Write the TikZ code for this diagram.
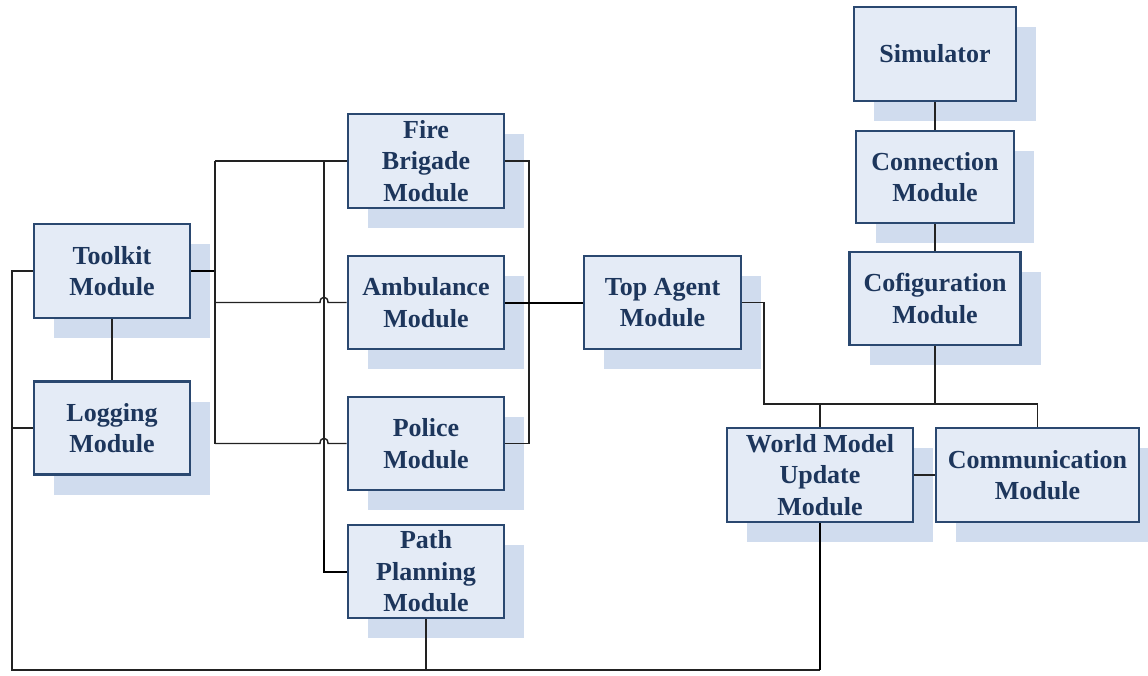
\documentclass[tikz,border=0pt]{standalone}
\usepackage{fontspec}
\setmainfont{Liberation Serif}
\usetikzlibrary{shadows}
\definecolor{boxfill}{HTML}{E4EBF6}
\definecolor{boxline}{HTML}{2A4870}
\definecolor{boxtext}{HTML}{1D365C}
\definecolor{shade}{HTML}{D0DCEE}
\definecolor{wire}{HTML}{222222}
\begin{document}
\begin{tikzpicture}[x=1pt,y=-1pt,
  mod/.style={draw=boxline, line width=2.6pt, fill=boxfill, text=boxtext,
    font=\bfseries\fontsize{26}{31.5}\selectfont, align=center, inner sep=0pt,
    minimum width=156pt, minimum height=93pt,
    drop shadow={shadow xshift=20pt, shadow yshift=-20pt, fill=shade, opacity=1, draw=none}},
  wire/.style={draw=wire, line width=1.4pt},
  thickwire/.style={draw=black, line width=2pt}]
\useasboundingbox (0,0) rectangle (1148,675);
\fill[white] (0,0) rectangle (1148,675);

% nodes
\node[mod, minimum width=162pt, minimum height=94pt] (sim) at (935,54) {Simulator};
\node[mod, minimum width=158pt, minimum height=92pt] (conn) at (935,177) {Connection\\Module};
\node[mod, minimum width=171pt] (cfg) at (935,298.5) {Cofiguration\\Module};
\node[mod, minimum height=94pt] (tool) at (112,271) {Toolkit\\Module};
\node[mod] (log) at (112,428) {Logging\\Module};
\node[mod, minimum height=94pt] (fire) at (426,161) {Fire\\Brigade\\Module};
\node[mod] (amb) at (426,302.5) {Ambulance\\Module};
\node[mod] (pol) at (426,443.5) {Police\\Module};
\node[mod] (path) at (426,571.5) {Path\\Planning\\Module};
\node[mod, minimum width=157pt] (top) at (662.5,302.5) {Top Agent\\Module};
\node[mod, minimum width=186pt, minimum height=94pt] (wm) at (820,475) {World Model\\Update\\Module};
\node[mod, minimum width=203pt, minimum height=94pt] (comm) at (1037.5,475) {Communication\\Module};

% junction coordinates
\coordinate (tj) at (215,271);
\coordinate (lt) at (215,161);
\coordinate (lb) at (215,443.5);
\coordinate (la) at (215,302.5);
\coordinate (mt) at (324,161);
\coordinate (mb) at (324,571.5);
\coordinate (rt) at (529,161);
\coordinate (rb) at (529,443.5);
\coordinate (ta) at (764,302.5);
\coordinate (tb) at (764,404);
\coordinate (cr) at (1037.5,404);
\coordinate (wj) at (820,404);
\coordinate (cj) at (935,404);
\coordinate (bl) at (12,271);
\coordinate (bll) at (12,428);
\coordinate (bb) at (12,670);
\coordinate (bw) at (820,670);
\coordinate (bp) at (426,670);

% left bus
\draw[thickwire] (tool.east) -- (tj);
\draw[wire] (lt) -- (lb);
\draw[wire] (lt) -- (fire.west);
\draw[wire] (la) -- (320,302.5) .. controls (320,295.5) and (328,295.5) .. (328,302.5) -- (amb.west);
\draw[wire] (lb) -- (320,443.5) .. controls (320,436.5) and (328,436.5) .. (328,443.5) -- (pol.west);
\draw[wire] (mt) -- (324,540);
\draw[thickwire] (324,540) -- (mb) -- (path.west);

% right bus
\draw[wire] (fire.east) -- (rt) -- (rb) -- (pol.east);
\draw[thickwire] (amb.east) -- (top.west);

% top agent to world model / communication
\draw[wire] (top.east) -- (ta) -- (tb) -- (cr) -- (comm.north);
\draw[wire] (wm.north) -- (wj);
\draw[wire] (cfg.south) -- (cj);
\draw[wire] (wm.east) -- (comm.west);

% simulator chain
\draw[wire] (sim.south) -- (conn.north);
\draw[wire] (conn.south) -- (cfg.north);

% toolkit / logging
\draw[wire] (tool.south) -- (log.north);

% bottom loop
\draw[wire] (tool.west) -- (bl) -- (bb) -- (bw);
\draw[thickwire] (bw) -- (wm.south);
\draw[wire] (log.west) -- (bll);
\draw[wire] (path.south) -- (bp);
\end{tikzpicture}
\end{document}
